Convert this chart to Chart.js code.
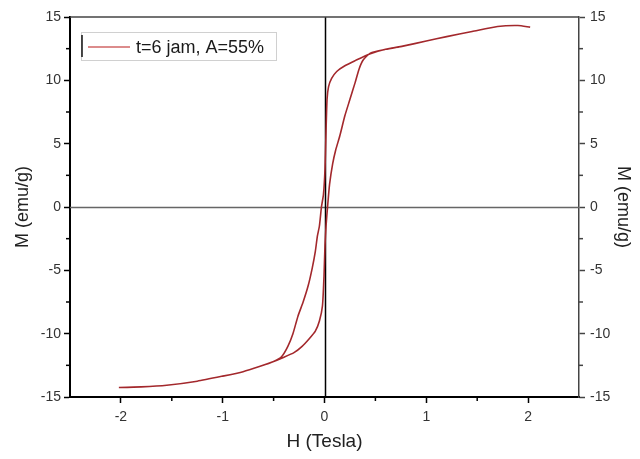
<!DOCTYPE html>
<html>
<head>
<meta charset="utf-8">
<script src="https://cdn.jsdelivr.net/npm/chart.js@4/dist/chart.umd.min.js"></script>
<style>
  html, body { margin: 0; padding: 0; background: #fff; }
  canvas { display: block; }
</style>
</head>
<body>
<canvas id="loop" width="640" height="459"></canvas>
<script>
// ramas del lazo de histéresis: H (Tesla) y M (emu/g)
const H_bajada = [2.02, 1.9, 1.7, 1.45, 1.2, 1.0, 0.77, 0.6, 0.45, 0.3, 0.2, 0.12, 0.07, 0.04, 0.025, 0.015, 0.005, -0.01, -0.03, -0.05, -0.07, -0.09, -0.12, -0.16, -0.21, -0.26, -0.31, -0.36, -0.42, -0.5, -0.64, -0.8, -1.0, -1.25, -1.55, -1.8, -2.02]
const M_bajada = [14.2, 14.33, 14.25, 13.85, 13.45, 13.1, 12.7, 12.45, 12.1, 11.55, 11.15, 10.7, 10.15, 9.5, 8.5, 6, 3, 1, 0, -1.5, -2.3, -3.5, -4.8, -6.2, -7.5, -8.6, -10.0, -11.0, -11.8, -12.2, -12.6, -13.0, -13.35, -13.75, -14.07, -14.2, -14.25]
const H_subida = [-1.8, -1.55, -1.25, -1.0, -0.8, -0.64, -0.5, -0.41, -0.3, -0.22, -0.15, -0.09, -0.05, -0.02, -0.005, 0.005, 0.015, 0.03, 0.05, 0.08, 0.11, 0.15, 0.2, 0.25, 0.3, 0.34, 0.38, 0.45, 0.6, 0.77, 1.0, 1.2, 1.45, 1.7, 1.9, 2.02]
const M_subida = [-14.2, -14.07, -13.75, -13.35, -13.0, -12.6, -12.2, -11.9, -11.5, -11.0, -10.4, -9.8, -9.0, -7.8, -5.5, -3, -1.5, 0, 1.8, 3.4, 4.5, 5.6, 7.2, 8.5, 9.8, 10.9, 11.6, 12.15, 12.45, 12.7, 13.1, 13.45, 13.85, 14.25, 14.33, 14.2]

const ticks_H = [-2, -1, 0, 1, 2]
const ticks_M = [-15, -10, -5, 0, 5, 10, 15]
const menores_H = [-1.5, -0.5, 0.5, 1.5]
const menores_M = [-12.5, -7.5, -2.5, 2.5, 7.5, 12.5]
const etiqueta = 't=6 jam, A=55%'

const puntos = H_bajada.map((h, i) => ({ x: h, y: M_bajada[i] }))
    .concat(H_subida.map((h, i) => ({ x: h, y: M_subida[i] })))

const fuente = { family: 'Arial, "Liberation Sans", sans-serif' }

// marco, ticks menores, líneas del cero y leyenda
const extras = {
    id: 'extras',
    beforeDatasetsDraw(chart) {
        const { ctx, chartArea: a, scales: { x, y } } = chart
        ctx.save()
        ctx.lineWidth = 1.5
        ctx.strokeStyle = '#666'
        const y0 = Math.round(y.getPixelForValue(0)) + 0.5
        ctx.beginPath(); ctx.moveTo(a.left, y0); ctx.lineTo(a.right, y0); ctx.stroke()
        ctx.strokeStyle = '#000'
        const x0 = Math.round(x.getPixelForValue(0)) + 0.5
        ctx.beginPath(); ctx.moveTo(x0, a.top); ctx.lineTo(x0, a.bottom); ctx.stroke()
        ctx.restore()
    },
    afterDraw(chart) {
        const { ctx, chartArea: a, scales: { x, y } } = chart
        ctx.save()
        // borde superior
        ctx.strokeStyle = '#444'
        ctx.lineWidth = 1.5
        ctx.beginPath(); ctx.moveTo(a.left, a.top); ctx.lineTo(a.right, a.top); ctx.stroke()
        // ticks menores
        ctx.strokeStyle = '#000'
        ctx.lineWidth = 1.5
        menores_H.forEach(v => {
            const px = x.getPixelForValue(v)
            ctx.beginPath(); ctx.moveTo(px, a.bottom); ctx.lineTo(px, a.bottom + 4); ctx.stroke()
        })
        menores_M.forEach(v => {
            const py = y.getPixelForValue(v)
            ctx.beginPath(); ctx.moveTo(a.left, py); ctx.lineTo(a.left - 4, py); ctx.stroke()
            ctx.strokeStyle = '#444'
            ctx.beginPath(); ctx.moveTo(a.right, py); ctx.lineTo(a.right + 4, py); ctx.stroke()
            ctx.strokeStyle = '#000'
        })
        // leyenda
        const lx = 81, ly = 32, lw = 195, lh = 28
        ctx.fillStyle = '#fff'
        ctx.fillRect(lx, ly, lw, lh)
        ctx.strokeStyle = '#d0d0d0'
        ctx.lineWidth = 1
        ctx.strokeRect(lx + 0.5, ly + 0.5, lw, lh)
        ctx.strokeStyle = '#111'
        ctx.lineWidth = 1.5
        ctx.beginPath(); ctx.moveTo(lx + 1, ly + 3); ctx.lineTo(lx + 1, ly + lh - 3); ctx.stroke()
        ctx.strokeStyle = '#dc8c8c'
        ctx.lineWidth = 2
        ctx.beginPath(); ctx.moveTo(lx + 7, ly + 15); ctx.lineTo(lx + 49, ly + 15); ctx.stroke()
        ctx.fillStyle = '#1a1a1a'
        ctx.font = '18px Arial, "Liberation Sans", sans-serif'
        ctx.textBaseline = 'middle'
        ctx.fillText(chart.data.datasets[0].label, lx + 55, ly + 16)
        ctx.restore()
    }
}

const canvas = document.getElementById('loop')
new Chart(canvas, {
    type: 'scatter',
    data: {
        datasets: [{
            label: etiqueta,
            data: puntos,
            showLine: true,
            borderColor: '#a3282c',
            borderWidth: 1.6,
            pointRadius: 0,
            tension: 0.2,
            fill: false,
        }]
    },
    options: {
        responsive: false,
        animation: false,
        devicePixelRatio: 1,
        layout: { padding: { top: 17, left: 0, right: 0, bottom: 0 } },
        plugins: { legend: { display: false }, tooltip: { enabled: false } },
        scales: {
            x: {
                type: 'linear', min: -2.5, max: 2.5,
                afterBuildTicks: s => { s.ticks = ticks_H.map(v => ({ value: v })) },
                afterFit: s => { s.height = 62 },
                grid: { drawOnChartArea: false, tickLength: 6, tickColor: '#000', tickWidth: 1.5 },
                border: { color: '#000', width: 2 },
                ticks: { color: '#333', font: { ...fuente, size: 14 }, padding: 6 },
                title: { display: true, text: 'H (Tesla)', color: '#222', font: { ...fuente, size: 19 }, padding: { bottom: 6 } },
            },
            y: {
                type: 'linear', position: 'left', min: -15, max: 15,
                afterBuildTicks: s => { s.ticks = ticks_M.map(v => ({ value: v })) },
                afterFit: s => { s.width = 70 },
                grid: { drawOnChartArea: false, tickLength: 6, tickColor: '#000', tickWidth: 1.5 },
                border: { color: '#000', width: 2 },
                ticks: { color: '#333', font: { ...fuente, size: 14 }, padding: 3 },
                title: { display: true, text: 'M (emu/g)', color: '#222', font: { ...fuente, size: 18 }, padding: { top: 12 } },
            },
            y2: {
                type: 'linear', position: 'right', min: -15, max: 15,
                afterBuildTicks: s => { s.ticks = ticks_M.map(v => ({ value: v })) },
                afterFit: s => { s.width = 61 },
                grid: { drawOnChartArea: false, tickLength: 6, tickColor: '#444', tickWidth: 1.5 },
                border: { color: '#444', width: 1.5 },
                ticks: { color: '#333', font: { ...fuente, size: 14 }, padding: 5 },
                title: { display: true, text: 'M (emu/g)', color: '#222', font: { ...fuente, size: 18 }, padding: { top: 6 } },
            }
        }
    },
    plugins: [extras]
})
</script>
</body>
</html>
